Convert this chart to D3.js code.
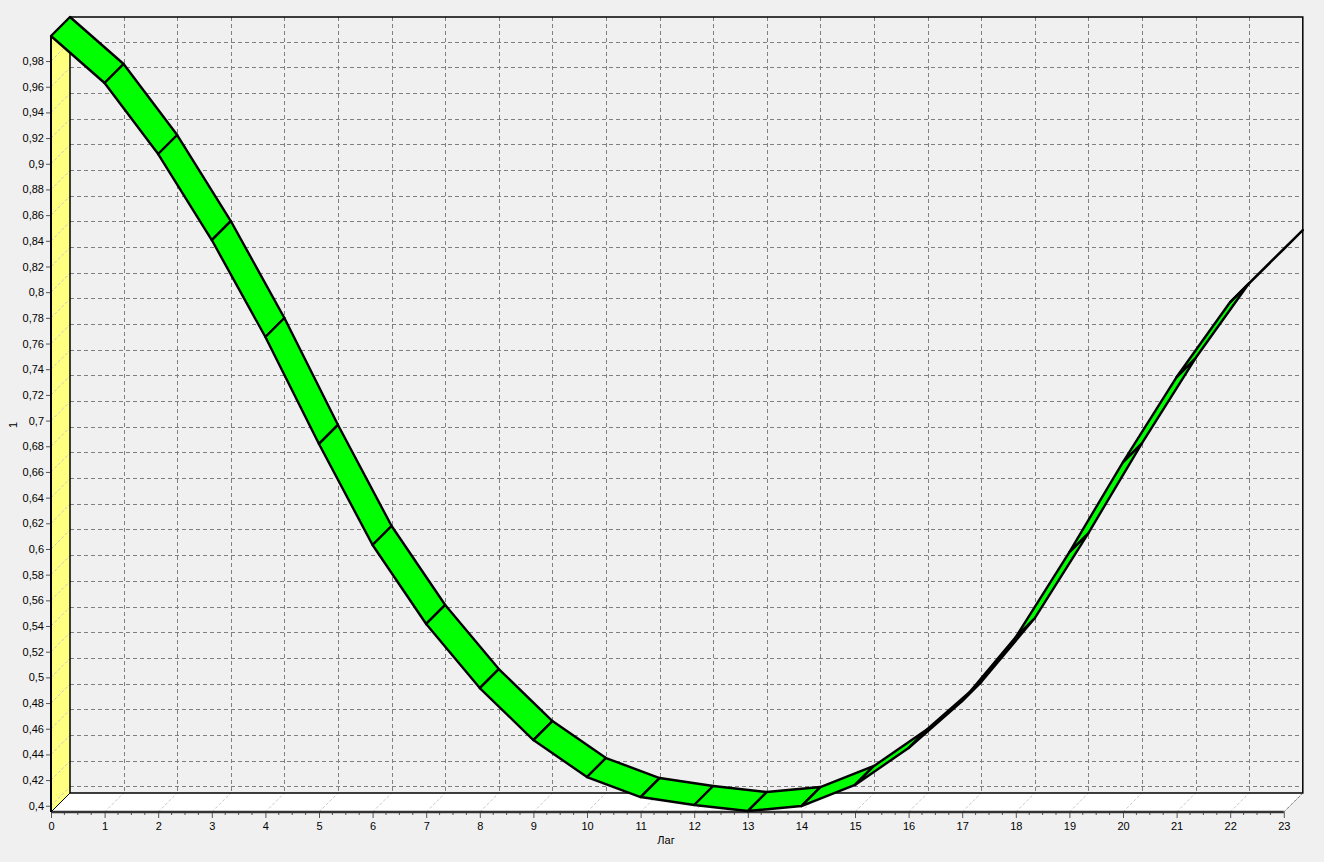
<!DOCTYPE html>
<html><head><meta charset="utf-8">
<script src="https://cdn.jsdelivr.net/npm/d3@7"></script>
<style>
html,body{margin:0;padding:0;background:#f0f0f0;overflow:hidden}
svg{display:block}
text{font-family:"Liberation Sans",Arial,sans-serif;font-size:11px;fill:#000}
</style></head><body>
<svg id="c" width="1324" height="862"></svg>
<script>
const lags = d3.range(0, 24);
const acf = [0.9995,0.9629,0.9076,0.8406,0.7651,0.6818,0.6031,0.5416,0.4917,0.4512,0.4224,0.4068,0.4006,0.3959,0.3998,0.4162,0.4450,0.4816,0.5314,0.5976,0.6677,0.7339,0.7923,0.8336];
const yTicks = [0.4,0.42,0.44,0.46,0.48,0.5,0.52,0.54,0.56,0.58,0.6,0.62,0.64,0.66,0.68,0.7,0.72,0.74,0.76,0.78,0.8,0.82,0.84,0.86,0.88,0.9,0.92,0.94,0.96,0.98];
const xTitle = "Лаг", yTitle = "1";

const L = 51, R = 1283.8, B = 812, T = 36, D = 19;
const x = d3.scaleLinear().domain([0, 23]).range([L, R]);
const y = d3.scaleLinear().domain([0.39515, 0.99951]).range([B, T]);
const svg = d3.select("#c");
const poly = pts => pts.map(p => p.join(",")).join(" ");
const dash = "4,3";

// left wall and floor
svg.append("polygon").attr("points", poly([[L,T],[L+D,T-D],[L+D,B-D],[L,B]])).attr("fill", "#ffff80");
svg.append("polygon").attr("points", poly([[L,B],[L+D,B-D],[R+D,B-D],[R,B]])).attr("fill", "#fff");

// back-wall grid
const g = svg.append("g").attr("fill", "none").attr("stroke", "#808080").attr("stroke-dasharray", dash);
g.selectAll(".h").data(yTicks).join("line")
  .attr("x1", L + D).attr("x2", R + D)
  .attr("y1", d => Math.floor(y(d)) - D + .5).attr("y2", d => Math.floor(y(d)) - D + .5);
g.selectAll(".v").data(lags.slice(1, -1)).join("line")
  .attr("y1", T - D).attr("y2", B - D)
  .attr("x1", d => Math.round(x(d)) + D + .5).attr("x2", d => Math.round(x(d)) + D + .5);

// grid continuation across wall and floor
const g2 = svg.append("g").attr("stroke", "#c8c8c8").attr("stroke-dasharray", "3,2");
g2.selectAll(".w").data(yTicks).join("line")
  .attr("x1", L).attr("x2", L + D)
  .attr("y1", d => y(d)).attr("y2", d => y(d) - D);
g2.selectAll(".f").data(lags.slice(1, -1)).join("line")
  .attr("y1", B).attr("y2", B - D)
  .attr("x1", d => x(d)).attr("x2", d => x(d) + D);

// frame
const frame = svg.append("g").attr("stroke", "#000").attr("fill", "none");
frame.append("path").attr("stroke-width", 1.5)
  .attr("d", `M${L+D},${B-D}V${T-D}H${R+D}V${B-D}H${L+D}`);
frame.append("line").attr("x1", L).attr("y1", B).attr("x2", L + D).attr("y2", B - D);
frame.append("line").attr("x1", R).attr("y1", B).attr("x2", R + D).attr("y2", B - D).attr("stroke", "#333").attr("stroke-dasharray", "1,1");

// axes
const yAxis = d3.axisLeft(y).tickValues(yTicks).tickSize(5).tickPadding(2)
  .tickFormat(d => String(d).replace(".", ","));
const xAxis = d3.axisBottom(x).tickValues(lags).tickSize(6).tickPadding(4).tickFormat(d => d);
const ya = svg.append("g").attr("transform", `translate(${L},0)`).call(yAxis);
const xa = svg.append("g").attr("transform", `translate(0,${B})`).call(xAxis);
[ya, xa].forEach(a => { a.select(".domain").remove(); a.selectAll("line").attr("stroke", "#555"); });
svg.append("g").attr("stroke", "#555").selectAll("line")
  .data(lags.slice(0, -1).flatMap(d => [0.25, 0.5, 0.75].map(f => d + f))).join("line")
  .attr("x1", d => x(d)).attr("x2", d => x(d)).attr("y1", B).attr("y2", B + 3);
svg.append("line").attr("x1", L).attr("x2", R).attr("y1", B).attr("y2", B).attr("stroke", "#333").attr("stroke-width", 2.5);
svg.append("line").attr("x1", L).attr("x2", L).attr("y1", T).attr("y2", B).attr("stroke", "#000").attr("stroke-width", 2);

// ribbon
const ribbon = svg.append("g").attr("fill", "#00ff00").attr("stroke", "#000").attr("stroke-width", 2.4).attr("stroke-linejoin", "round");
ribbon.selectAll("polygon").data(d3.pairs(lags)).join("polygon")
  .attr("points", ([a, b]) => poly([
    [x(a), y(acf[a])], [x(b), y(acf[b])],
    [x(b) + D, y(acf[b]) - D], [x(a) + D, y(acf[a]) - D]
  ]));

// titles
svg.append("text").attr("x", 666).attr("y", 844).attr("text-anchor", "middle").text(xTitle);
svg.append("text").attr("transform", "translate(17,425) rotate(-90)").attr("text-anchor", "middle").text(yTitle);
</script>
</body></html>
